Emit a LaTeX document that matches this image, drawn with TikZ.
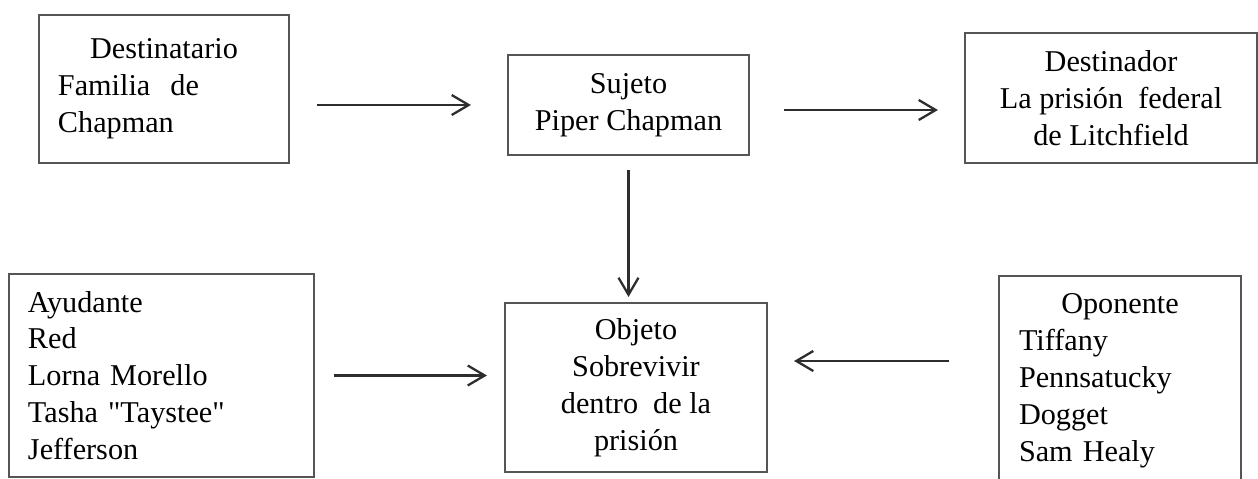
\documentclass[tikz,border=0pt]{standalone}
\usepackage{fontspec}
\setmainfont{Liberation Serif}[Ligatures=TeXOff]
\usetikzlibrary{arrows.meta}
\definecolor{boxGray}{RGB}{85,85,85}
\definecolor{arrowGray}{RGB}{45,45,45}

\begin{document}
\begin{tikzpicture}[
    caja/.style={draw=boxGray, line width=1.2pt, inner xsep=0.38cm, font=\fontsize{17.2}{21}\selectfont},
    flecha/.style={-{Straight Barb[length=3.4mm,width=4mm]}, draw=arrowGray, line width=1.3pt}]
            \useasboundingbox (0,0) rectangle (25.16,-9.58);
            \node[caja, minimum width=5cm, minimum height=2.96cm, text width=4.24cm, align=left] (destinatario) at (3.28,-1.78) {\makebox[\linewidth]{Destinatario}\\Familia\ \ de\\Chapman};
            \node[caja, minimum width=4.82cm, minimum height=2cm, align=center] (sujeto) at (12.57,-2.1) {Sujeto\\Piper Chapman};
            \node[caja, minimum width=5.84cm, minimum height=2.6cm, align=center] (destinador) at (22.22,-1.96) {Destinador\\La prisión\ \ federal\\de Litchfield};
            \node[caja, minimum width=6.1cm, minimum height=4.06cm, text width=5.34cm, align=left] (ayudante) at (3.23,-7.51) {Ayudante\\Red\\Lorna Morello\\Tasha "Taystee"\\Jefferson};
            \node[caja, minimum width=5.24cm, minimum height=3.38cm, align=center] (objeto) at (12.72,-7.75) {Objeto\\Sobrevivir\\dentro\ \ de la\\prisión};
            \node[caja, inner xsep=0.4cm, minimum width=4.84cm, minimum height=4.2cm, text width=4.04cm, align=left] (oponente) at (22.4,-7.62) {\makebox[\linewidth]{Oponente}\\Tiffany\\Pennsatucky\\Dogget\\Sam Healy};
            \draw[flecha, shorten <=0.54cm, shorten >=0.72cm] (destinatario.east |- sujeto.west) -- (sujeto.west);
            \draw[flecha, shorten <=0.68cm, shorten >=0.52cm] ([yshift=-0.1cm]sujeto.east) -- ([yshift=-0.1cm]sujeto.east -| destinador.west);
            \draw[flecha, shorten <=0.28cm, shorten >=0.1cm] (sujeto.south) -- (sujeto.south |- objeto.north);
            \draw[flecha, shorten <=0.38cm, shorten >=0.34cm] (ayudante.east) -- (ayudante.east -| objeto.west);
            \draw[flecha, shorten <=0.98cm, shorten >=0.52cm] ([yshift=0.4cm]oponente.west) -- ([yshift=0.4cm]oponente.west -| objeto.east);
        \end{tikzpicture}
\end{document}
